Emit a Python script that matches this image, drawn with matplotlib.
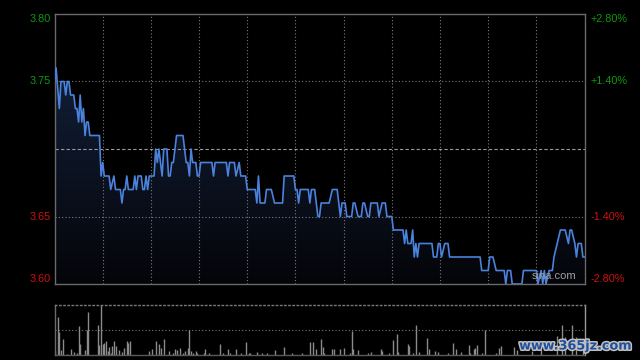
from __future__ import annotations

import matplotlib

matplotlib.use("Agg")

import matplotlib.pyplot as plt
import matplotlib.patheffects as pe
import numpy as np
from matplotlib.colors import LinearSegmentedColormap
from matplotlib.transforms import blended_transform_factory


PREV_CLOSE = 3.70
PRICE_TICKS = [3.80, 3.75, 3.65, 3.60]
PRICE_LABELS = ["3.80", "3.75", "3.65", "3.60"]
PCT_LABELS = ["+2.80%", "+1.40%", "-1.40%", "-2.80%"]

# minute after 09:30 (HK session, 330 minutes), price
PRICE_MINUTES = [
    0, 1, 3, 4, 6, 7, 8, 9, 10, 12, 13, 14, 15, 16, 17, 18, 19, 20, 21, 22,
    28, 29, 30, 31, 34, 35, 37, 38, 41, 42, 43, 44, 45, 46, 49, 50, 51, 52, 54, 55,
    56, 57, 58, 59, 62, 63, 64, 65, 67, 68, 70, 71, 72, 73, 74, 75, 76, 80, 81, 82,
    83, 84, 85, 86, 88, 89, 90, 91, 98, 99, 100, 107, 108, 109, 112, 113, 115, 116, 119, 120,
    125, 126, 127, 128, 131, 132, 135, 137, 142, 143, 149, 150, 151, 152, 153, 158, 159, 160, 162, 164,
    165, 166, 171, 173, 176, 177, 178, 179, 181, 182, 185, 186, 187, 189, 191, 192, 193, 195, 196, 197,
    201, 202, 204, 206, 207, 210, 211, 217, 218, 219, 220, 222, 223, 224, 225, 226, 227, 235, 236, 238,
    239, 240, 241, 243, 245, 246, 265, 266, 270, 271, 273, 275, 280, 281, 282, 284, 285, 291, 292, 300,
    301, 303, 304, 305, 306, 308, 310, 311, 313, 315, 318, 320, 321, 322, 324, 325, 326, 328, 329, 330,
]
PRICES = [
    3.75, 3.76, 3.73, 3.75, 3.75, 3.74, 3.75, 3.75, 3.74, 3.74, 3.73, 3.73, 3.72, 3.74, 3.72, 3.73, 3.71, 3.72, 3.72, 3.71,
    3.71, 3.68, 3.69, 3.68, 3.68, 3.67, 3.68, 3.67, 3.67, 3.66, 3.67, 3.67, 3.68, 3.67, 3.67, 3.68, 3.67, 3.68, 3.68, 3.67,
    3.67, 3.68, 3.67, 3.68, 3.68, 3.70, 3.69, 3.70, 3.68, 3.70, 3.70, 3.68, 3.68, 3.69, 3.69, 3.70, 3.71, 3.71, 3.70, 3.69,
    3.69, 3.68, 3.70, 3.69, 3.69, 3.68, 3.68, 3.69, 3.69, 3.68, 3.69, 3.69, 3.68, 3.69, 3.69, 3.68, 3.69, 3.68, 3.68, 3.67,
    3.67, 3.66, 3.68, 3.66, 3.66, 3.67, 3.67, 3.66, 3.66, 3.68, 3.68, 3.67, 3.67, 3.66, 3.67, 3.67, 3.66, 3.67, 3.67, 3.65,
    3.65, 3.66, 3.66, 3.67, 3.67, 3.66, 3.65, 3.66, 3.66, 3.65, 3.65, 3.66, 3.66, 3.65, 3.65, 3.66, 3.66, 3.65, 3.65, 3.66,
    3.66, 3.65, 3.66, 3.66, 3.65, 3.65, 3.64, 3.64, 3.63, 3.64, 3.63, 3.63, 3.64, 3.62, 3.63, 3.62, 3.63, 3.63, 3.62, 3.62,
    3.63, 3.63, 3.62, 3.63, 3.63, 3.62, 3.62, 3.61, 3.61, 3.62, 3.62, 3.61, 3.61, 3.60, 3.61, 3.61, 3.60, 3.60, 3.61, 3.61,
    3.60, 3.61, 3.60, 3.61, 3.60, 3.61, 3.61, 3.62, 3.63, 3.64, 3.64, 3.63, 3.64, 3.64, 3.63, 3.62, 3.63, 3.63, 3.62, 3.62,
]

VOLUME_MINUTES = [
    0, 2, 3, 4, 5, 8, 10, 12, 14, 15, 16, 19, 20, 21, 27, 28, 29, 30, 31, 32,
    33, 34, 35, 36, 37, 38, 40, 42, 43, 45, 46, 47, 59, 61, 63, 65, 66, 68, 71, 74,
    75, 76, 78, 80, 81, 83, 84, 85, 86, 88, 89, 93, 94, 96, 103, 105, 108, 109, 113, 116,
    119, 121, 122, 126, 129, 132, 137, 143, 148, 154, 159, 161, 163, 166, 167, 168, 173, 174, 178, 180,
    184, 185, 186, 189, 195, 197, 203, 204, 208, 211, 213, 214, 220, 221, 223, 225, 227, 232, 233, 237,
    239, 245, 248, 250, 253, 258, 259, 261, 262, 263, 266, 268, 275, 277, 278, 286, 288, 297, 303, 313,
    316, 318, 322, 325, 329,
]
VOLUMES = [
    4, 38, 22.6, 4.3, 15.3, 1, 6, 3, 2, 28.3, 10.3, 5, 25, 42.3, 29.3, 9.3, 49.3, 10.3, 11.6, 13.3,
    3.3, 8, 2, 9, 14, 9, 5, 3, 7, 14, 11.6, 13.3, 3.3, 6, 14, 10.3, 7, 15.3, 4, 2,
    6, 5, 6.6, 2, 3.3, 7, 24.3, 4, 2, 3.3, 1.5, 2, 6, 1.5, 10.3, 1.5, 5.6, 2, 6, 1.5,
    12.6, 2, 2, 3, 1.5, 1.5, 4.6, 7.6, 1.5, 1.5, 12.3, 12.3, 6, 15.3, 7.6, 1.5, 6, 6, 5.6, 7,
    2, 23.6, 6, 5, 1.5, 2.5, 6, 3.6, 1.5, 15, 20.3, 3, 10.3, 8.3, 1.5, 29.3, 3, 17, 5.6, 4,
    3, 1.5, 11.6, 5.6, 2.3, 9.6, 2, 5.6, 7, 9.6, 1.5, 24.3, 1.5, 7, 8.3, 7.6, 5, 4, 6, 19,
    29.3, 17.6, 29.3, 17.6, 14,
]

BG = "#000000"
FRAME = "#6a6a6a"
GRID = "#7a7a7a"
LINE = "#4a82dc"
GREEN = "#0c9a0c"
RED = "#d01010"


def style_frame(ax: plt.Axes) -> None:
    ax.set_facecolor(BG)
    for spine in ax.spines.values():
        spine.set_color(FRAME)
        spine.set_linewidth(1.0)
    ax.set_xticks([])
    ax.set_yticks([])


def draw_price(ax: plt.Axes) -> None:
    style_frame(ax)
    minutes = np.array(PRICE_MINUTES, dtype=float)
    prices = np.array(PRICES)

    for minute in range(30, 330, 30):
        ax.axvline(minute, color=GRID, lw=0.8, ls=(0, (1, 2)), zorder=2)
    for level in (3.75, 3.65):
        ax.axhline(level, color=GRID, lw=0.8, ls=(0, (1, 2)), zorder=2)
    ax.axhline(PREV_CLOSE, color="#9a9a9a", lw=0.8, ls=(0, (3, 2)), zorder=2)

    poly = ax.fill_between(minutes, prices, 3.60, facecolor="none", edgecolor="none")
    cmap = LinearSegmentedColormap.from_list("fade", ["#040509", "#13203a"])
    gradient = np.linspace(0, 1, 256).reshape(-1, 1)
    image = ax.imshow(gradient, extent=[0, 330, 3.60, 3.77], origin="lower",
                      aspect="auto", cmap=cmap, zorder=1)
    image.set_clip_path(poly.get_paths()[0], transform=ax.transData)

    ax.plot(minutes, prices, color=LINE, lw=1.2, zorder=3)
    ax.set_xlim(0, 330)
    ax.set_ylim(3.60, 3.80)

    left = blended_transform_factory(ax.transAxes, ax.transData)
    aligns = ["top", "center", "center", "bottom"]
    colors = [GREEN, GREEN, RED, RED]
    for value, label, pct, va, color in zip(PRICE_TICKS, PRICE_LABELS, PCT_LABELS, aligns, colors):
        ax.text(-0.007, value, label, transform=left, ha="right", va=va,
                color=color, fontsize=7.8, family="Liberation Sans")
        ax.text(1.011, value, pct, transform=left, ha="left", va=va,
                color=color, fontsize=7.8, family="Liberation Sans")

    ax.text(0.943, 0.012, "sina.com", transform=ax.transAxes, ha="center", va="bottom",
            color="#a0a0a0", fontsize=8, family="Liberation Sans", zorder=4)


def draw_volume(ax: plt.Axes) -> None:
    style_frame(ax)
    ax.spines["top"].set_linestyle((0, (1, 2)))
    ax.spines["top"].set_color(GRID)
    ax.spines["bottom"].set_linestyle((0, (1, 1)))
    ax.spines["bottom"].set_color("#5a5a5a")
    ax.spines["right"].set_color("#9a9a9a")
    ax.axhline(25, color=GRID, lw=0.8, ls=(0, (1, 2)))
    ax.vlines(VOLUME_MINUTES, 0, VOLUMES, color="#8a8a8a", lw=1.0)
    ax.set_xlim(0, 330)
    ax.set_ylim(0, 50)


def main() -> None:
    fig = plt.figure(figsize=(6.4, 3.6), dpi=100, facecolor=BG)
    price_ax = fig.add_axes([54.5 / 640, 1 - 284 / 360, 530 / 640, 270 / 360])
    volume_ax = fig.add_axes([54.5 / 640, 1 - 354.5 / 360, 530 / 640, 50 / 360])
    draw_price(price_ax)
    draw_volume(volume_ax)

    fig.text(575 / 640, 1 - 346 / 360, "www.365jz.com", ha="center", va="center",
             color="#1f4f9e", fontsize=9.2, fontweight="bold", family="DejaVu Sans",
             path_effects=[pe.withStroke(linewidth=2.2, foreground="#c0c0c0")])

    fig.savefig("out.png", dpi=100, facecolor=BG)
    plt.close(fig)


if __name__ == "__main__":
    main()
